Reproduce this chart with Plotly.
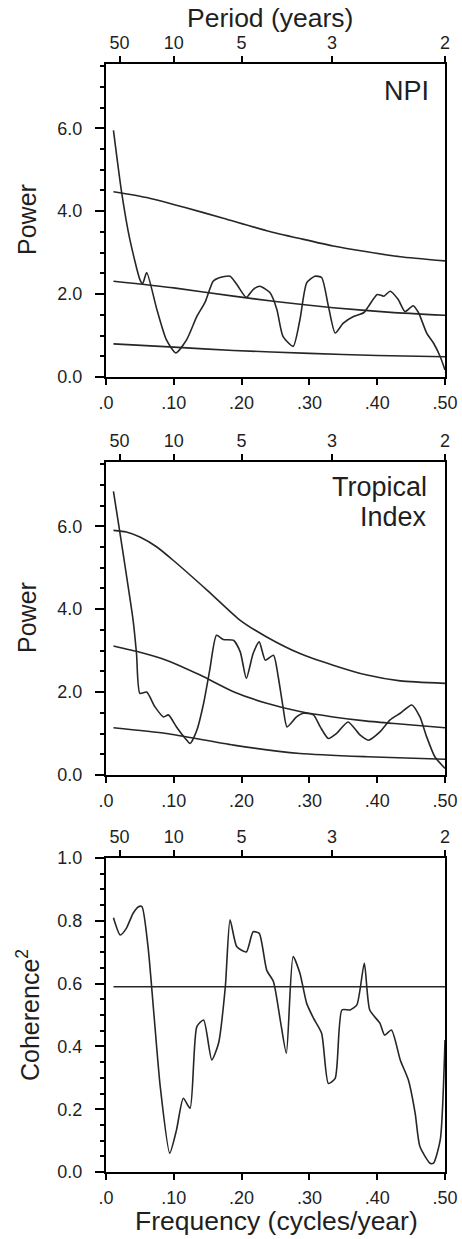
import plotly.graph_objects as go

W, H = 462, 1239

# ---------------- data ----------------
npi_freq = [0.011, 0.023, 0.035, 0.05, 0.054, 0.06, 0.075, 0.089, 0.103, 0.119, 0.134, 0.146,
            0.158, 0.166, 0.183, 0.193, 0.207, 0.217, 0.227, 0.242, 0.252, 0.261, 0.276, 0.286,
            0.296, 0.308, 0.318, 0.328, 0.338, 0.35, 0.365, 0.38, 0.387, 0.4, 0.41, 0.419,
            0.431, 0.441, 0.453, 0.461, 0.473, 0.483, 0.493, 0.5]
npi_power = [5.95, 4.46, 3.33, 2.35, 2.25, 2.52, 1.63, 0.9, 0.58, 0.9, 1.46, 1.8,
             2.31, 2.39, 2.43, 2.23, 1.92, 2.11, 2.19, 2.03, 1.63, 0.98, 0.74, 1.38,
             2.27, 2.43, 2.4, 1.71, 1.06, 1.3, 1.46, 1.55, 1.7, 1.99, 1.95, 2.07,
             1.87, 1.58, 1.72, 1.55, 1.06, 0.82, 0.49, 0.17]

npi_upper_f = [0.011, 0.06, 0.114, 0.173, 0.237, 0.286, 0.335, 0.385, 0.434, 0.5]
npi_upper = [4.47, 4.33, 4.1, 3.83, 3.53, 3.34, 3.16, 3.02, 2.9, 2.8]
npi_mid_f = [0.011, 0.1, 0.188, 0.25, 0.335, 0.42, 0.5]
npi_mid = [2.31, 2.15, 1.95, 1.82, 1.67, 1.56, 1.49]
npi_low_f = [0.011, 0.1, 0.188, 0.3, 0.4, 0.5]
npi_low = [0.8, 0.72, 0.64, 0.57, 0.52, 0.49]

trop_freq = [0.011, 0.02, 0.04, 0.045, 0.05, 0.06, 0.072, 0.085, 0.092, 0.104, 0.117, 0.124,
             0.134, 0.144, 0.153, 0.163, 0.173, 0.188, 0.198, 0.207, 0.217, 0.226, 0.235,
             0.247, 0.254, 0.261, 0.267, 0.281, 0.291, 0.306, 0.316, 0.328, 0.34, 0.357,
             0.375, 0.387, 0.404, 0.419, 0.434, 0.451, 0.463, 0.473, 0.485, 0.5]
trop_power = [6.84, 5.9, 3.73, 2.93, 1.97, 2.0, 1.65, 1.4, 1.45, 1.16, 0.88, 0.76,
              1.08, 1.73, 2.53, 3.37, 3.27, 3.25, 2.97, 2.33, 2.93, 3.21, 2.77,
              2.89, 2.37, 1.65, 1.16, 1.4, 1.49, 1.45, 1.16, 0.88, 1.0, 1.28,
              0.96, 0.84, 1.04, 1.33, 1.49, 1.69, 1.4, 0.92, 0.44, 0.16]

trop_upper_f = [0.011, 0.03, 0.05, 0.075, 0.099, 0.149, 0.198, 0.237, 0.286, 0.335, 0.385, 0.434, 0.5]
trop_upper = [5.9, 5.86, 5.74, 5.5, 5.18, 4.46, 3.73, 3.33, 2.93, 2.65, 2.41, 2.27, 2.21]
trop_mid_f = [0.011, 0.05, 0.089, 0.139, 0.188, 0.237, 0.286, 0.335, 0.385, 0.434, 0.5]
trop_mid = [3.11, 2.96, 2.77, 2.41, 2.01, 1.73, 1.53, 1.4, 1.3, 1.23, 1.14]
trop_low_f = [0.011, 0.089, 0.188, 0.286, 0.385, 0.5]
trop_low = [1.14, 1.0, 0.72, 0.52, 0.44, 0.38]

coh_freq = [0.011, 0.021, 0.03, 0.04, 0.048, 0.053, 0.062, 0.07, 0.08, 0.094, 0.104, 0.114,
            0.124, 0.134, 0.144, 0.156, 0.166, 0.176, 0.183, 0.193, 0.207, 0.217, 0.226,
            0.237, 0.247, 0.257, 0.266, 0.276, 0.286, 0.296, 0.306, 0.318, 0.328, 0.338,
            0.348, 0.36, 0.37, 0.381, 0.389, 0.404, 0.411, 0.421, 0.434, 0.446, 0.456,
            0.463, 0.478, 0.483, 0.493, 0.5]
coh_values = [0.81, 0.755, 0.776, 0.824, 0.845, 0.845, 0.717, 0.52, 0.272, 0.06, 0.134, 0.235,
              0.203, 0.463, 0.484, 0.357, 0.41, 0.59, 0.803, 0.717, 0.701, 0.765, 0.76,
              0.643, 0.606, 0.484, 0.378, 0.686, 0.633, 0.537, 0.49, 0.442, 0.282, 0.298,
              0.516, 0.516, 0.532, 0.665, 0.516, 0.474, 0.436, 0.452, 0.357, 0.293, 0.187,
              0.081, 0.028, 0.028, 0.102, 0.42]
coh_sig_f = [0.011, 0.5]
coh_sig = [0.59, 0.59]

freq_ticks = [0.0, 0.1, 0.2, 0.3, 0.4, 0.5]
freq_ticktext = [".0", ".10", ".20", ".30", ".40", ".50"]
period_ticks = [0.02, 0.1, 0.2, 0.3333, 0.5]
period_ticktext = ["50", "10", "5", "3", "2"]

# ---------------- layout helpers ----------------
FONT = "Liberation Sans, Arial, sans-serif"
INK = "#1f1f1f"
LINE = "#262626"


def px(x):
    return x / W


def py(y):
    return 1 - y / H


x_dom = [px(106), px(445)]
panels = [(64, 377), (462, 775), (858, 1172)]

fig = go.Figure()


def add_line(f, v, k, shape="linear"):
    fig.add_trace(go.Scatter(
        x=f, y=v, mode="lines",
        line=dict(color=LINE, width=1.6, shape=shape, smoothing=0.6 if shape == "spline" else None),
        xaxis="x" if k == 1 else f"x{k}", yaxis="y" if k == 1 else f"y{k}",
        showlegend=False, hoverinfo="skip"))


# panel 1
add_line(npi_upper_f, npi_upper, 1, "spline")
add_line(npi_mid_f, npi_mid, 1, "spline")
add_line(npi_low_f, npi_low, 1, "spline")
add_line(npi_freq, npi_power, 1, "spline")
# panel 2
add_line(trop_upper_f, trop_upper, 2, "spline")
add_line(trop_mid_f, trop_mid, 2, "spline")
add_line(trop_low_f, trop_low, 2, "spline")
add_line(trop_freq, trop_power, 2, "spline")
# panel 3
add_line(coh_sig_f, coh_sig, 3)
add_line(coh_freq, coh_values, 3, "spline")

# dummy traces for top (period) axes
for k in range(3):
    fig.add_trace(go.Scatter(x=[None], y=[None], mode="lines",
                             xaxis=f"x{k + 4}", yaxis="y" if k == 0 else f"y{k + 1}",
                             showlegend=False, hoverinfo="skip"))

tickfont = dict(family=FONT, size=18, color=INK)
layout = dict(
    width=W, height=H,
    margin=dict(l=0, r=0, t=0, b=0, autoexpand=False),
    paper_bgcolor="white", plot_bgcolor="white",
    showlegend=False,
)

for k, (top, bot) in enumerate(panels, start=1):
    sfx = "" if k == 1 else str(k)
    ydom = [py(bot), py(top)]
    if k < 3:
        yax = dict(range=[0, 7.55], tick0=0, dtick=2, tickformat=".1f",
                   minor=dict(tick0=0, dtick=0.5, ticks="outside", ticklen=4,
                              tickcolor="black", tickwidth=1.5))
    else:
        yax = dict(range=[0, 1.0], tick0=0, dtick=0.2, tickformat=".1f",
                   minor=dict(tick0=0, dtick=0.05, ticks="outside", ticklen=4,
                              tickcolor="black", tickwidth=1.5))
    yax.update(domain=ydom, anchor=f"x{sfx}", showgrid=False, zeroline=False,
               showline=True, linecolor="black", linewidth=2, mirror=True,
               ticks="outside", ticklen=9, tickwidth=1.5, tickcolor="black",
               tickfont=tickfont, ticklabelstandoff=9, fixedrange=True,
               automargin=False)
    layout[f"yaxis{sfx}"] = yax
    layout[f"xaxis{sfx}"] = dict(
        domain=x_dom, anchor=f"y{sfx}", range=[0, 0.5],
        tickmode="array", tickvals=freq_ticks, ticktext=freq_ticktext,
        showgrid=False, zeroline=False, showline=True, linecolor="black", linewidth=2,
        ticks="outside", ticklen=6, tickwidth=2, tickcolor="black",
        tickfont=tickfont, ticklabelstandoff=2, fixedrange=True, automargin=False)
    layout[f"xaxis{k + 3}"] = dict(
        overlaying=f"x{sfx}", anchor=f"y{sfx}", side="top", range=[0, 0.5],
        tickmode="array", tickvals=period_ticks, ticktext=period_ticktext,
        showgrid=False, zeroline=False, showline=True, linecolor="black", linewidth=2,
        ticks="outside", ticklen=6, tickwidth=2, tickcolor="black",
        tickfont=tickfont, ticklabelstandoff=0, fixedrange=True, automargin=False)

ytitlefont = dict(family=FONT, size=25, color=INK)
xtitlefont = dict(family=FONT, size=26.5, color=INK)
labfont = dict(family=FONT, size=27, color=INK)


def ann(text, x, y, font, xanchor="center", yanchor="middle", angle=0):
    return dict(text=text, x=px(x), y=py(y), xref="paper", yref="paper",
                showarrow=False, font=font, xanchor=xanchor, yanchor=yanchor,
                textangle=angle)


layout["annotations"] = [
    ann("Period (years)", 270, 18, xtitlefont),
    ann("NPI", 431, 91, labfont, xanchor="right"),
    ann("Tropical", 429, 487, labfont, xanchor="right"),
    ann("Index", 429, 517, labfont, xanchor="right"),
    ann("Power", 27, 220, ytitlefont, angle=-90),
    ann("Power", 27, 618, ytitlefont, angle=-90),
    ann("Coherence<sup>2</sup>", 28, 1015, ytitlefont, angle=-90),
    ann("Frequency (cycles/year)", 276, 1221, xtitlefont),
]

fig.update_layout(**layout)
fig.write_html(
    "out.html",
    config={"displayModeBar": False},
    post_script="document.body.style.margin='0';document.documentElement.style.overflow='hidden';",
)
